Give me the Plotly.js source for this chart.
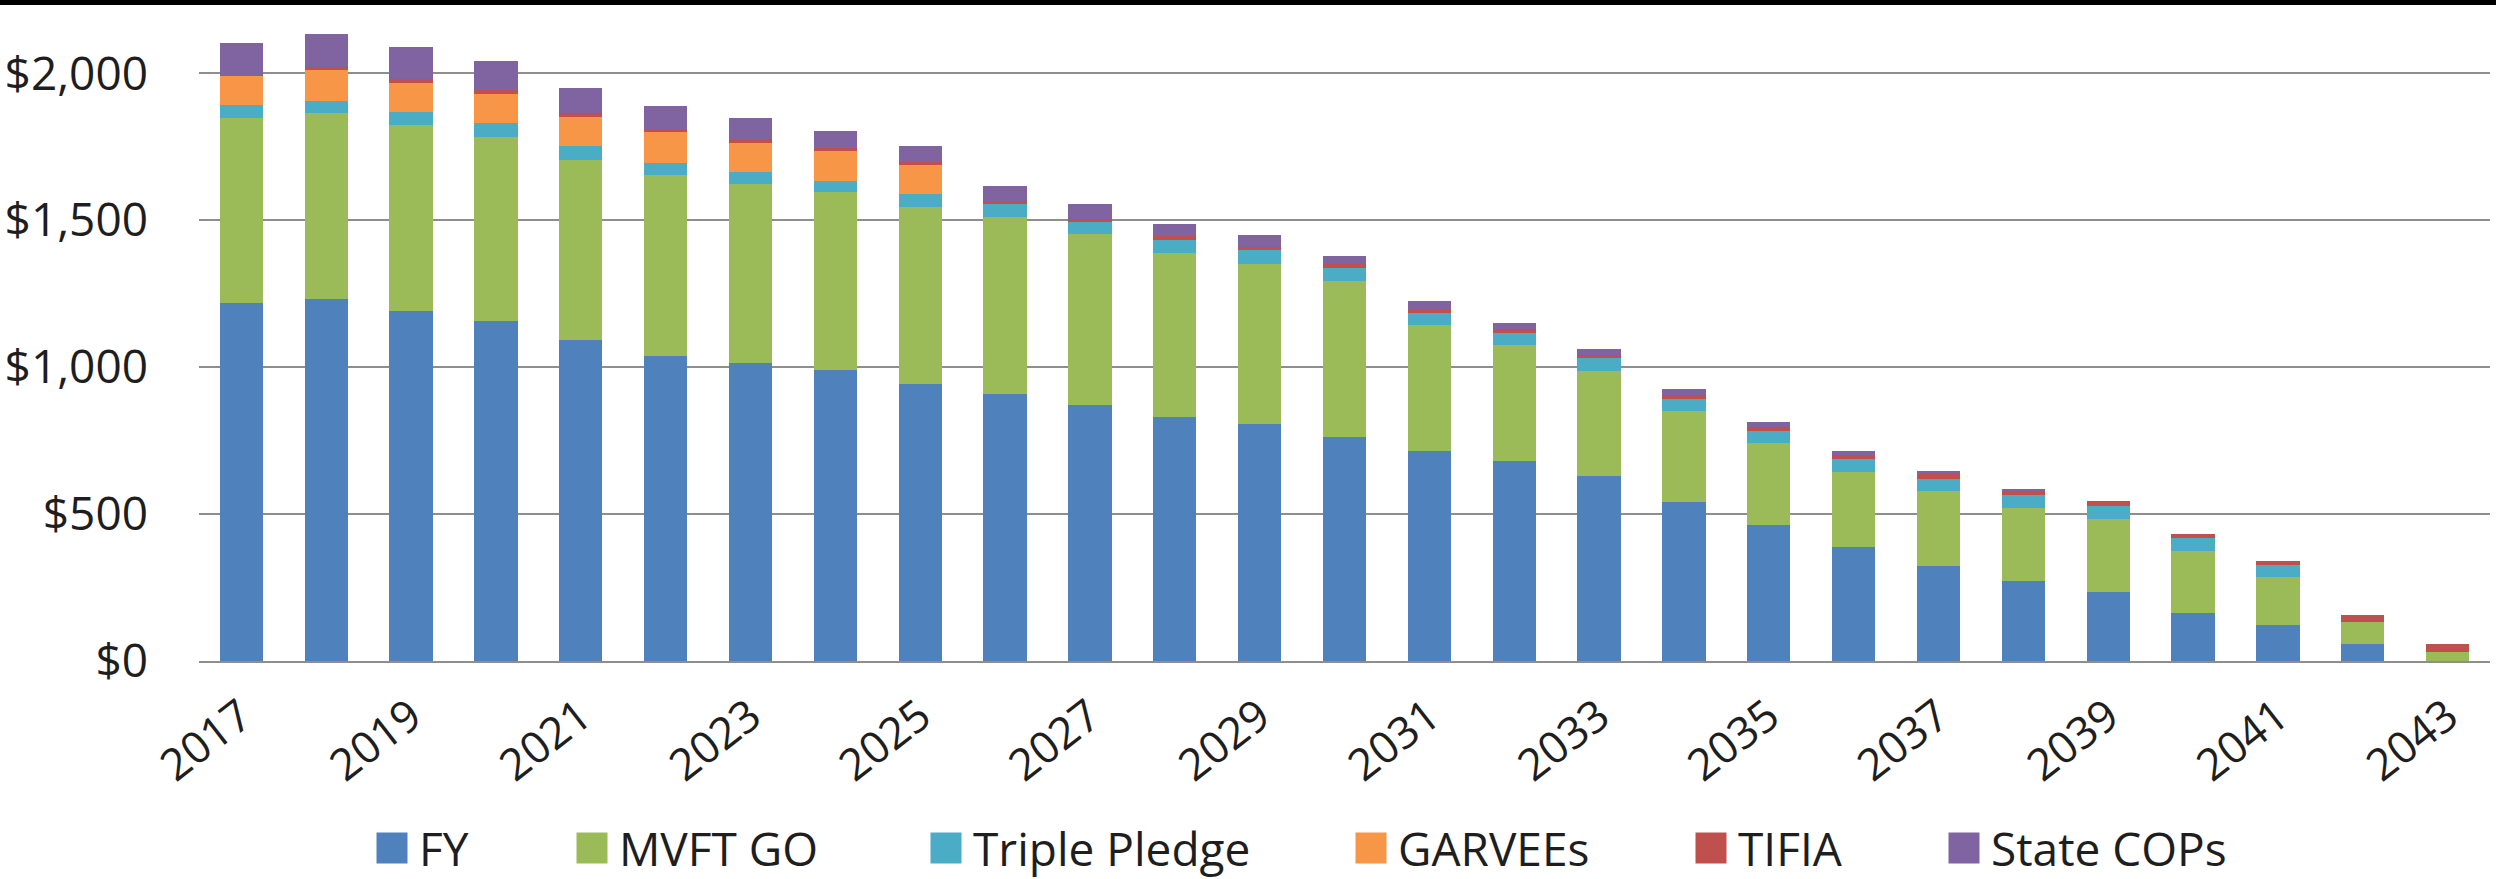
<!DOCTYPE html>
<html>
<head>
<meta charset="utf-8">
<script src="https://cdn.plot.ly/plotly-3.0.1.min.js"></script>
<style>
  html, body { margin: 0; padding: 0; background: #ffffff; }
  #wrap { position: relative; width: 2496px; height: 879px; overflow: hidden; }
  #chart { width: 2496px; height: 879px; }
  #band { position: absolute; left: 0; top: 0; width: 2496px; height: 5px; background: #000; }
</style>
</head>
<body>
<div id="wrap">
  <div id="chart"></div>
  <div id="band"></div>
</div>
<script>
// ---- data ----
const years = [2017, 2018, 2019, 2020, 2021, 2022, 2023, 2024, 2025, 2026, 2027, 2028, 2029, 2030,
               2031, 2032, 2033, 2034, 2035, 2036, 2037, 2038, 2039, 2040, 2041, 2042, 2043];
const tickYears = [2017, 2019, 2021, 2023, 2025, 2027, 2029, 2031, 2033, 2035, 2037, 2039, 2041, 2043];
const yTicks = [0, 500, 1000, 1500, 2000];
const yTickLabels = ['$0', '$500', '$1,000', '$1,500', '$2,000'];

const FY          = [1220, 1233, 1191, 1157, 1092, 1037, 1016, 990, 944, 910, 871, 829, 806, 763,
                     715, 680, 630, 540, 463, 388, 324, 274, 235, 164, 122, 59, 0];
const MVFT_GO     = [630, 631, 632, 627, 615, 619, 607, 605, 603, 600, 582, 560, 547, 531,
                     428, 395, 358, 310, 279, 256, 255, 247, 250, 212, 164, 74, 32];
const TriplePledge= [41, 43, 45, 46, 46, 40, 41, 38, 43, 44, 42, 44, 45, 44,
                     42, 43, 42, 43, 40, 43, 41, 43, 43, 43, 41, 0, 0];
const GARVEEs     = [100, 104, 100, 100, 99, 103, 100, 103, 100, 0, 0, 0, 0, 0,
                     0, 0, 0, 0, 0, 0, 0, 0, 0, 0, 0, 0, 0];
const TIFIA       = [0, 10, 12, 13, 12, 10, 12, 11, 10, 11, 11, 13, 12, 12,
                     11, 13, 13, 14, 16, 13, 16, 14, 15, 13, 15, 24, 26];
const StateCOPs   = [111, 112, 109, 101, 87, 80, 71, 58, 54, 51, 49, 41, 40, 29,
                     28, 21, 19, 18, 15, 14, 12, 7, 0, 0, 0, 0, 0];

const seriesNames = ['FY', 'MVFT GO', 'Triple Pledge', 'GARVEEs', 'TIFIA', 'State COPs'];
const seriesData  = [FY, MVFT_GO, TriplePledge, GARVEEs, TIFIA, StateCOPs];
const seriesColors = ['#4F81BD', '#9BBB59', '#4BACC6', '#F79646', '#C0504D', '#8064A2'];

// ---- presentation ----
const W = 2496, H = 879;
const FONT = 'Open Sans, Noto Sans, sans-serif';
const TXT = '#1e1e1e';
const legendLeftPx = [365, 565, 919, 1344, 1684, 1937];
const legendCenterY = 848;

const legendKeys = ['legend', 'legend2', 'legend3', 'legend4', 'legend5', 'legend6'];

const traces = seriesNames.map((name, i) => ({
  type: 'bar',
  name: name,
  x: years,
  y: seriesData[i],
  marker: { color: seriesColors[i], line: { width: 0 } },
  legend: legendKeys[i],
  showlegend: true,
  hoverinfo: 'skip'
}));

const layout = {
  width: W,
  height: H,
  margin: { l: 199, r: 6, t: 0, b: 218, pad: 0 },
  paper_bgcolor: '#ffffff',
  plot_bgcolor: '#ffffff',
  barmode: 'stack',
  bargap: 0.49,
  font: { family: FONT, color: TXT, size: 44 },
  xaxis: {
    type: 'linear',
    range: [2016.5, 2043.5],
    tickmode: 'array',
    tickvals: tickYears,
    ticktext: tickYears.map(String),
    tickangle: -38,
    tickfont: { family: FONT, size: 44, color: TXT },
    showgrid: false,
    zeroline: false,
    showline: true,
    linecolor: '#8e8e8e',
    linewidth: 2,
    ticks: '',
    ticklabelstandoff: 10,
    fixedrange: true
  },
  yaxis: {
    range: [0, 2250],
    tickmode: 'array',
    tickvals: yTicks,
    ticktext: yTickLabels,
    tickfont: { family: FONT, size: 46, color: TXT },
    showgrid: true,
    gridcolor: '#8e8e8e',
    gridwidth: 2,
    zeroline: false,
    showline: false,
    ticks: '',
    ticklabelstandoff: 50,
    fixedrange: true
  },
  showlegend: true
};

legendKeys.forEach((k, i) => {
  layout[k] = {
    xref: 'container',
    yref: 'container',
    x: legendLeftPx[i] / W,
    y: 1 - legendCenterY / H,
    xanchor: 'left',
    yanchor: 'middle',
    orientation: 'h',
    itemwidth: 44,
    bgcolor: 'rgba(0,0,0,0)',
    borderwidth: 0,
    font: { family: FONT, size: 46, color: TXT },
    itemclick: false,
    itemdoubleclick: false
  };
});

function enlargeLegendSymbols() {
  document.querySelectorAll('#chart g.legendpoints path').forEach(p => {
    p.setAttribute('d', 'M15.5,15.5H-15.5V-15.5H15.5Z');
  });
}

Plotly.newPlot('chart', traces, layout, { staticPlot: true, displayModeBar: false })
  .then(gd => {
    enlargeLegendSymbols();
    gd.on('plotly_afterplot', enlargeLegendSymbols);
  });
</script>
</body>
</html>
